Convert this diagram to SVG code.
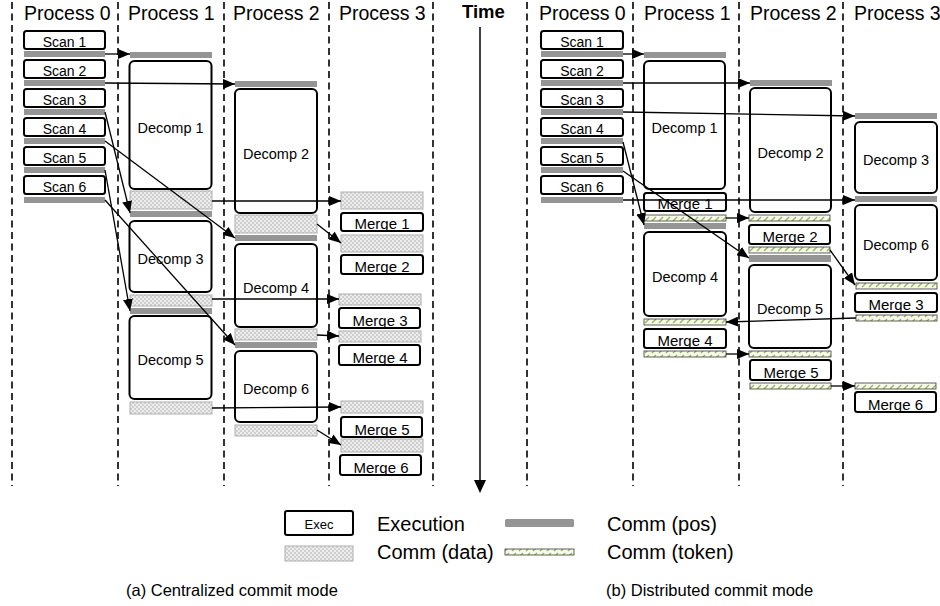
<svg xmlns="http://www.w3.org/2000/svg" width="940" height="606" viewBox="0 0 940 606">
<style>
.ex{fill:#fff;stroke:#000;stroke-width:2}
.pos{fill:#959595}
.dat{fill:url(#dots);stroke:#b0b0b0;stroke-width:1}
.tok{fill:url(#hatch);stroke:#3a3a3a;stroke-width:0.8}
text{font-family:"Liberation Sans",Arial,sans-serif;fill:#000}
.sc{font-size:14px;text-anchor:middle}
.dc{font-size:14.5px;text-anchor:middle}
.mg{font-size:15px;text-anchor:middle}
.hd{font-size:19.5px}
.lg{font-size:20px}
.cap{font-size:16.5px}
.dash{stroke:#000;stroke-width:1.6;stroke-dasharray:7 4.5}
.conn line{stroke:#000;stroke-width:1.3;fill:none;marker-end:url(#ah)}
</style>
<defs>
<pattern id="dots" width="4" height="4" patternUnits="userSpaceOnUse">
<rect width="4" height="4" fill="#cfcfcf"/>
<rect width="2" height="2" fill="#ededed"/>
<rect x="2" y="2" width="2" height="2" fill="#ededed"/>
</pattern>
<pattern id="hatch" width="7" height="6" patternUnits="userSpaceOnUse">
<rect width="7" height="6" fill="#f7f8ee"/>
<line x1="1" y1="5" x2="5" y2="1" stroke="#8fb849" stroke-width="1.3"/>
</pattern>
<marker id="ah" markerUnits="userSpaceOnUse" markerWidth="12" markerHeight="10" refX="12" refY="5" orient="auto">
<path d="M0,0 L12,5 L0,10 z" fill="#000"/>
</marker>
</defs>
<rect width="940" height="606" fill="#fff"/>

<g id="dividers">
<line class="dash" x1="12" y1="2" x2="12" y2="486"/>
<line class="dash" x1="118" y1="2" x2="118" y2="486"/>
<line class="dash" x1="224" y1="2" x2="224" y2="486"/>
<line class="dash" x1="329" y1="2" x2="329" y2="486"/>
<line class="dash" x1="433" y1="2" x2="433" y2="486"/>
<line class="dash" x1="527" y1="2" x2="527" y2="486"/>
<line class="dash" x1="633" y1="2" x2="633" y2="486"/>
<line class="dash" x1="739" y1="2" x2="739" y2="486"/>
<line class="dash" x1="843" y1="2" x2="843" y2="486"/>
</g>

<g id="headers">
<text class="hd" x="24" y="20">Process 0</text>
<text class="hd" x="128" y="20">Process 1</text>
<text class="hd" x="233" y="20">Process 2</text>
<text class="hd" x="339" y="20">Process 3</text>
<text class="hd" x="539" y="20">Process 0</text>
<text class="hd" x="644" y="20">Process 1</text>
<text class="hd" x="750" y="20">Process 2</text>
<text class="hd" x="854" y="20">Process 3</text>
</g>

<g id="time">
<text x="462" y="18" style="font-size:18.5px;font-weight:bold">Time</text>
<line x1="480" y1="27" x2="480" y2="482" stroke="#000" stroke-width="1.5"/>
<path d="M474,480 L486,480 L480,493 z" fill="#000"/>
</g>

<!-- (a) Centralized: Process 0 -->
<g id="a-scan1"><rect class="ex" x="24" y="31" width="81" height="18" rx="2.5"/><text class="sc" x="64.5" y="46.5">Scan 1</text></g>
<g id="a-scan2"><rect class="ex" x="24" y="60" width="81" height="18" rx="2.5"/><text class="sc" x="64.5" y="75.5">Scan 2</text></g>
<g id="a-scan3"><rect class="ex" x="24" y="89" width="81" height="18" rx="2.5"/><text class="sc" x="64.5" y="104.5">Scan 3</text></g>
<g id="a-scan4"><rect class="ex" x="24" y="118" width="81" height="18" rx="2.5"/><text class="sc" x="64.5" y="133.5">Scan 4</text></g>
<g id="a-scan5"><rect class="ex" x="24" y="147" width="81" height="18" rx="2.5"/><text class="sc" x="64.5" y="162.5">Scan 5</text></g>
<g id="a-scan6"><rect class="ex" x="24" y="176" width="81" height="18" rx="2.5"/><text class="sc" x="64.5" y="191.5">Scan 6</text></g>
<g id="a-p0-pos">
<rect class="pos" x="24" y="51" width="81" height="6"/>
<rect class="pos" x="24" y="80" width="81" height="6"/>
<rect class="pos" x="24" y="109" width="81" height="6"/>
<rect class="pos" x="24" y="138" width="81" height="6"/>
<rect class="pos" x="24" y="167" width="81" height="6"/>
<rect class="pos" x="24" y="197" width="81" height="6"/>
</g>

<!-- (a) Process 1 -->
<g id="a-p1-bars">
<rect class="pos" x="130" y="52" width="82" height="6"/>
<rect class="dat" x="130" y="191" width="82" height="18"/>
<rect class="pos" x="130" y="211" width="82" height="6"/>
<rect class="dat" x="130" y="295" width="82" height="11"/>
<rect class="pos" x="130" y="308" width="82" height="6"/>
<rect class="dat" x="130" y="402" width="82" height="12"/>
</g>
<g id="a-decomp1"><rect class="ex" x="129.5" y="61" width="82" height="128" rx="5"/><text class="dc" x="170.5" y="132.5">Decomp 1</text></g>
<g id="a-decomp3"><rect class="ex" x="129.5" y="221" width="82" height="71" rx="5"/><text class="dc" x="170.5" y="264">Decomp 3</text></g>
<g id="a-decomp5"><rect class="ex" x="129.5" y="316" width="82" height="83" rx="5"/><text class="dc" x="170.5" y="365">Decomp 5</text></g>

<!-- (a) Process 2 -->
<g id="a-p2-bars">
<rect class="pos" x="235" y="81" width="82" height="6"/>
<rect class="dat" x="235" y="215" width="82" height="18"/>
<rect class="pos" x="235" y="235" width="82" height="6"/>
<rect class="dat" x="235" y="329" width="82" height="11"/>
<rect class="pos" x="235" y="342" width="82" height="6"/>
<rect class="dat" x="235" y="425" width="82" height="11"/>
</g>
<g id="a-decomp2"><rect class="ex" x="235" y="89" width="82" height="124" rx="5"/><text class="dc" x="276" y="158.5">Decomp 2</text></g>
<g id="a-decomp4"><rect class="ex" x="235" y="244" width="82" height="83" rx="5"/><text class="dc" x="276" y="293">Decomp 4</text></g>
<g id="a-decomp6"><rect class="ex" x="235" y="351" width="82" height="71" rx="5"/><text class="dc" x="276" y="394">Decomp 6</text></g>

<!-- (a) Process 3 -->
<g id="a-p3-bars">
<rect class="dat" x="341" y="192" width="82" height="17"/>
<rect class="dat" x="341" y="235" width="82" height="17"/>
<rect class="dat" x="339" y="294" width="82" height="11"/>
<rect class="dat" x="339" y="331" width="82" height="11"/>
<rect class="dat" x="341" y="401" width="82" height="12"/>
<rect class="dat" x="341" y="439" width="82" height="13"/>
</g>
<g id="a-merge1"><rect class="ex" x="341" y="213" width="82" height="18" rx="2.5"/><text class="mg" x="382" y="228.5">Merge 1</text></g>
<g id="a-merge2"><rect class="ex" x="341" y="255" width="82" height="19" rx="2.5"/><text class="mg" x="382" y="271.5">Merge 2</text></g>
<g id="a-merge3"><rect class="ex" x="339" y="308" width="81" height="20" rx="2.5"/><text class="mg" x="380" y="325.5">Merge 3</text></g>
<g id="a-merge4"><rect class="ex" x="339" y="345" width="81" height="20" rx="2.5"/><text class="mg" x="380" y="362.5">Merge 4</text></g>
<g id="a-merge5"><rect class="ex" x="341" y="417" width="81" height="20" rx="2.5"/><text class="mg" x="382" y="434.5">Merge 5</text></g>
<g id="a-merge6"><rect class="ex" x="340" y="455" width="81" height="20" rx="2.5"/><text class="mg" x="381" y="472.5">Merge 6</text></g>

<!-- (b) Distributed: Process 0 -->
<g id="b-scan1"><rect class="ex" x="541" y="31" width="82" height="18" rx="2.5"/><text class="sc" x="582" y="46.5">Scan 1</text></g>
<g id="b-scan2"><rect class="ex" x="541" y="60" width="82" height="18" rx="2.5"/><text class="sc" x="582" y="75.5">Scan 2</text></g>
<g id="b-scan3"><rect class="ex" x="541" y="89" width="82" height="18" rx="2.5"/><text class="sc" x="582" y="104.5">Scan 3</text></g>
<g id="b-scan4"><rect class="ex" x="541" y="118" width="82" height="18" rx="2.5"/><text class="sc" x="582" y="133.5">Scan 4</text></g>
<g id="b-scan5"><rect class="ex" x="541" y="147" width="82" height="18" rx="2.5"/><text class="sc" x="582" y="162.5">Scan 5</text></g>
<g id="b-scan6"><rect class="ex" x="541" y="176" width="82" height="18" rx="2.5"/><text class="sc" x="582" y="191.5">Scan 6</text></g>
<g id="b-p0-pos">
<rect class="pos" x="541" y="51" width="82" height="6"/>
<rect class="pos" x="541" y="80" width="82" height="6"/>
<rect class="pos" x="541" y="109" width="82" height="6"/>
<rect class="pos" x="541" y="138" width="82" height="6"/>
<rect class="pos" x="541" y="167" width="82" height="6"/>
<rect class="pos" x="541" y="197" width="82" height="6"/>
</g>

<!-- (b) Process 1 -->
<g id="b-p1-bars">
<rect class="pos" x="644" y="52" width="82" height="6"/>
<rect class="tok" x="644" y="215" width="82" height="6"/>
<rect class="pos" x="644" y="223" width="82" height="6"/>
<rect class="tok" x="644" y="319" width="82" height="6"/>
<rect class="tok" x="644" y="351" width="82" height="6"/>
</g>
<g id="b-decomp1"><rect class="ex" x="644" y="61" width="81" height="128" rx="5"/><text class="dc" x="684.5" y="132.5">Decomp 1</text></g>
<g id="b-merge1"><rect class="ex" x="644" y="193" width="82" height="18" rx="2.5"/><text class="mg" x="685" y="208.5">Merge 1</text></g>
<g id="b-decomp4"><rect class="ex" x="644" y="232" width="82" height="84" rx="5"/><text class="dc" x="685" y="281.5">Decomp 4</text></g>
<g id="b-merge4"><rect class="ex" x="644" y="329" width="82" height="19" rx="2.5"/><text class="mg" x="685" y="345.5">Merge 4</text></g>

<!-- (b) Process 2 -->
<g id="b-p2-bars">
<rect class="pos" x="750" y="80" width="82" height="6"/>
<rect class="tok" x="749" y="215" width="81" height="6"/>
<rect class="tok" x="749" y="247" width="81" height="6"/>
<rect class="pos" x="749" y="255" width="82" height="7"/>
<rect class="tok" x="749" y="351" width="82" height="6"/>
<rect class="tok" x="750" y="383" width="81" height="6"/>
</g>
<g id="b-decomp2"><rect class="ex" x="750" y="88" width="81" height="124" rx="5"/><text class="dc" x="790.5" y="157.5">Decomp 2</text></g>
<g id="b-merge2"><rect class="ex" x="749" y="225" width="81" height="19" rx="2.5"/><text class="mg" x="790" y="241.5">Merge 2</text></g>
<g id="b-decomp5"><rect class="ex" x="749" y="265" width="82" height="83" rx="5"/><text class="dc" x="790" y="314">Decomp 5</text></g>
<g id="b-merge5"><rect class="ex" x="750" y="360" width="81" height="20" rx="2.5"/><text class="mg" x="791" y="377.5">Merge 5</text></g>

<!-- (b) Process 3 -->
<g id="b-p3-bars">
<rect class="pos" x="855" y="113" width="82" height="6"/>
<rect class="pos" x="855" y="196" width="82" height="6"/>
<rect class="tok" x="856" y="283" width="81" height="6"/>
<rect class="tok" x="856" y="315" width="81" height="6"/>
<rect class="tok" x="855" y="383" width="81" height="6"/>
</g>
<g id="b-decomp3"><rect class="ex" x="855" y="122" width="82" height="71" rx="5"/><text class="dc" x="896" y="165">Decomp 3</text></g>
<g id="b-decomp6"><rect class="ex" x="855" y="205" width="82" height="75" rx="5"/><text class="dc" x="896" y="250">Decomp 6</text></g>
<g id="b-merge3"><rect class="ex" x="855" y="293" width="82" height="19" rx="2.5"/><text class="mg" x="896" y="309.5">Merge 3</text></g>
<g id="b-merge6"><rect class="ex" x="855" y="392" width="81" height="20" rx="2.5"/><text class="mg" x="895.5" y="409.5">Merge 6</text></g>

<g id="connectors" class="conn">
<line x1="105" y1="54" x2="130" y2="54"/>
<line x1="105" y1="83" x2="235" y2="84"/>
<line x1="105" y1="112" x2="130" y2="213"/>
<line x1="105" y1="141" x2="235" y2="238"/>
<line x1="105" y1="170" x2="130" y2="311"/>
<line x1="105" y1="200" x2="235" y2="345"/>
<line x1="212" y1="201" x2="341" y2="201"/>
<line x1="317" y1="224" x2="341" y2="243"/>
<line x1="212" y1="299" x2="339" y2="299"/>
<line x1="317" y1="335" x2="339" y2="336"/>
<line x1="212" y1="408" x2="341" y2="407"/>
<line x1="317" y1="430" x2="341" y2="445"/>
<line x1="623" y1="54" x2="644" y2="54"/>
<line x1="623" y1="83" x2="750" y2="83"/>
<line x1="623" y1="112" x2="855" y2="116"/>
<line x1="623" y1="142" x2="644" y2="225"/>
<line x1="623" y1="171" x2="749" y2="258"/>
<line x1="623" y1="200" x2="855" y2="200"/>
<line x1="726" y1="218" x2="749" y2="218"/>
<line x1="830" y1="250" x2="855" y2="285"/>
<line x1="856" y1="318" x2="726" y2="322"/>
<line x1="726" y1="354" x2="749" y2="354"/>
<line x1="831" y1="386" x2="855" y2="386"/>
</g>

<g id="legend">
<g id="lg-exec"><rect class="ex" x="285" y="511" width="68" height="24" rx="2"/><text x="319" y="529" style="font-size:13px;text-anchor:middle">Exec</text></g>
<text class="lg" x="377" y="531">Execution</text>
<rect class="pos" x="505" y="519" width="69" height="8" rx="1.5"/>
<text class="lg" x="607" y="531">Comm (pos)</text>
<rect class="dat" x="285" y="546" width="68" height="15"/>
<text class="lg" x="377" y="559">Comm (data)</text>
<rect class="tok" x="505" y="549" width="69" height="6"/>
<text class="lg" x="607" y="559">Comm (token)</text>
</g>

<g id="captions">
<text class="cap" x="126" y="596">(a) Centralized commit mode</text>
<text class="cap" x="606" y="596">(b) Distributed commit mode</text>
</g>
</svg>
